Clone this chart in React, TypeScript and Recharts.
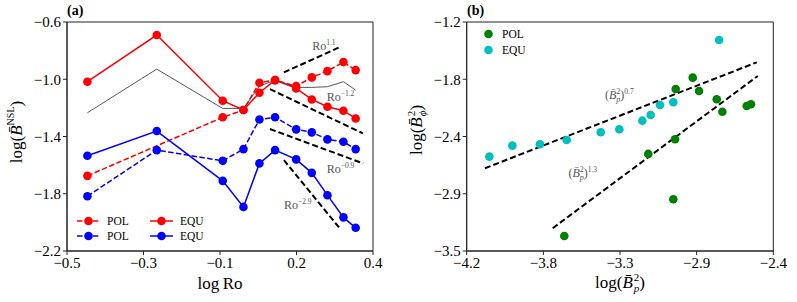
import React from 'react'
import {
  ComposedChart, ScatterChart, Line, Scatter, XAxis, YAxis, ReferenceLine, ReferenceArea, ReferenceDot,
} from 'recharts'

const FONT = '"Liberation Serif", "DejaVu Serif", serif'

// panel (a): log Ro vs log B^NSL
const logRo = [-0.44, -0.236, -0.042, 0.019, 0.066, 0.112, 0.174, 0.22, 0.266, 0.313, 0.349]
const redPol = [-1.675, null, -1.266, -1.215, -1.024, -1.006, -1.048, -0.987, -0.943, -0.88, -0.936]
const redEqu = [-1.017, -0.691, -1.15, -1.215, -1.094, -1.006, -1.064, -1.141, -1.192, -1.22, -1.274]
const bluePol = [-1.817, -1.495, -1.57, -1.488, -1.281, -1.266, -1.35, -1.371, -1.42, -1.437, -1.488]
const blueEqu = [-1.535, -1.362, -1.71, -1.892, -1.588, -1.495, -1.56, -1.654, -1.81, -1.965, -2.038]
const grayRef = [-1.234, -0.929, -1.204, -1.204, -1.048, -1.006, -1.057, -1.057, -1.052, -1.017, -1.076]

const aXTicks = [-0.5, -0.275, -0.05, 0.175, 0.4]
const aXLabels = ['−0.5', '−0.3', '−0.1', '0.2', '0.4']
const aYTicks = [-0.6, -1.0, -1.4, -1.8, -2.2]
const aYLabels = ['−0.6', '−1.0', '−1.4', '−1.8', '−2.2']

// power-law guides [x1, y1, x2, y2]
const aFits = [
  [0.138, -0.952, 0.301, -0.777],
  [0.097, -1.069, 0.37, -1.378],
  [0.097, -1.348, 0.371, -1.588],
  [0.138, -1.565, 0.301, -2.038],
]
const aFitText = [
  { x: 0.221, y: -0.796, exp: '1.1' },
  { x: 0.264, y: -1.152, exp: '−1.2' },
  { x: 0.264, y: -1.656, exp: '−0.9' },
  { x: 0.138, y: -1.908, exp: '−2.9' },
]

// panel (b): log Bp^2 vs log Bphi^2
const polBp = [-3.627, -3.134, -2.977, -2.987, -2.973, -2.873, -2.836, -2.732, -2.699, -2.556, -2.531]
const polBphi = [-3.349, -2.525, -2.378, -2.98, -1.873, -1.759, -1.893, -1.976, -2.101, -2.043, -2.026]
const equBp = [-4.067, -3.932, -3.77, -3.613, -3.413, -3.304, -3.169, -3.12, -3.065, -2.987, -2.718]
const equBphi = [-2.552, -2.442, -2.428, -2.385, -2.307, -2.277, -2.191, -2.134, -2.033, -2.006, -1.381]

const bXTicks = [-4.2, -3.75, -3.3, -2.85, -2.4]
const bXLabels = ['−4.2', '−3.8', '−3.3', '−2.9', '−2.4']
const bYTicks = [-1.2, -1.775, -2.35, -2.925, -3.5]
const bYLabels = ['−1.2', '−1.8', '−2.4', '−2.9', '−3.5']

const bFits = [
  [-4.093, -2.669, -2.497, -1.605],
  [-3.695, -3.271, -2.491, -1.742],
]
const bFitText = [
  { x: -3.388, y: -1.973, exp: '0.7' },
  { x: -3.603, y: -2.756, exp: '1.3' },
]

const RED = '#ff0000'
const BLUE = '#0000ff'
const GREEN = '#008000'
const CYAN = '#00bfbf'

const tickStyle = { fill: '#000', fontSize: 15, fontFamily: FONT }

const dotOf = (color: string) => (p: any) =>
  p.cx == null || p.cy == null ? <g key={p.key ?? p.index} /> : (
    <circle key={p.key ?? p.index} cx={p.cx} cy={p.cy} r={4.3} fill={color} stroke="none" />
  )

const roLabel = (exp: string) => ({ viewBox }: any) => (
  <text x={viewBox.x + (viewBox.width || 0) / 2} y={viewBox.y + (viewBox.height || 0) / 2}
    fill="#555" fontSize={12} style={{ fontFamily: FONT }}>
    <tspan>Ro</tspan>
    <tspan dy={-5} fontSize={7.5}>{exp}</tspan>
  </text>
)

const bpLabel = (exp: string) => ({ viewBox }: any) => (
  <text x={viewBox.x + (viewBox.width || 0) / 2} y={viewBox.y + (viewBox.height || 0) / 2}
    fill="#555" fontSize={12} style={{ fontFamily: FONT }}>
    <tspan>(</tspan>
    <tspan fontStyle="italic">B{'\u0304'}</tspan>
    <tspan dy={-5} fontSize={8}>2</tspan>
    <tspan dx={-4} dy={8} fontSize={8} fontStyle="italic">p</tspan>
    <tspan dy={-3}>)</tspan>
    <tspan dy={-5} fontSize={7.5}>{exp}</tspan>
  </text>
)

const LegendRow = ({ color, dashed, text, x, y }: any) => (
  <div style={{ position: 'absolute', left: x, top: y - 7, height: 14, display: 'flex', alignItems: 'center' }}>
    <svg width={24} height={14}>
      <line x1={0} y1={7} x2={23} y2={7} stroke={color} strokeWidth={1.5} strokeDasharray={dashed ? '5.5 2.4' : undefined} />
      <circle cx={11.5} cy={7} r={4.3} fill={color} />
    </svg>
    <span style={{ fontSize: 11.5, marginLeft: 6 }}>{text}</span>
  </div>
)

export default function App() {
  const dataA = logRo.map((x, i) => ({
    x, redPol: redPol[i], redEqu: redEqu[i], bluePol: bluePol[i], blueEqu: blueEqu[i], gray: grayRef[i],
  }))
  const polData = polBp.map((x, i) => ({ x, y: polBphi[i] }))
  const equData = equBp.map((x, i) => ({ x, y: equBphi[i] }))

  return (
    <div style={{ position: 'absolute', left: 0, top: 0, width: 797, height: 302, background: '#fff', fontFamily: FONT, color: '#000' }}>
      <style>{`.recharts-wrapper text, .recharts-wrapper tspan { font-family: ${FONT}; }`}</style>
      <div style={{ position: 'absolute', left: 0, top: 0 }}>
        <ComposedChart width={400} height={302} data={dataA} margin={{ top: 22, right: 27, bottom: 0, left: 0 }} style={{ fontFamily: FONT }}>
          <XAxis dataKey="x" type="number" domain={[-0.5, 0.4]} ticks={aXTicks} tickFormatter={(_v: any, i: number) => aXLabels[i]}
            height={51} tick={tickStyle} tickSize={4} stroke="#222" interval={0} allowDataOverflow />
          <YAxis type="number" domain={[-2.2, -0.6]} ticks={aYTicks} tickFormatter={(_v: any, i: number) => aYLabels[i]}
            width={67} tick={tickStyle} tickSize={4} stroke="#222" interval={0} allowDataOverflow />
          <ReferenceArea x1={-0.5} x2={0.4} y1={-2.2} y2={-0.6} fill="none" stroke="#222" strokeWidth={1} ifOverflow="visible" />
          <Line dataKey="redPol" stroke={RED} strokeWidth={1.5} strokeDasharray="5.5 2.4" connectNulls dot={dotOf(RED)} isAnimationActive={false} />
          <Line dataKey="redEqu" stroke={RED} strokeWidth={1.5} dot={dotOf(RED)} isAnimationActive={false} />
          <Line dataKey="bluePol" stroke={BLUE} strokeWidth={1.5} strokeDasharray="5.5 2.4" dot={dotOf(BLUE)} isAnimationActive={false} />
          <Line dataKey="blueEqu" stroke={BLUE} strokeWidth={1.5} dot={dotOf(BLUE)} isAnimationActive={false} />
          <Line dataKey="gray" stroke="#444" strokeWidth={0.9} dot={false} isAnimationActive={false} />
          {aFits.map((f, i) => (
            <ReferenceLine key={'fa' + i} segment={[{ x: f[0], y: f[1] }, { x: f[2], y: f[3] }]}
              stroke="#000" strokeWidth={2} strokeDasharray="6 3" />
          ))}
          {aFitText.map((t, i) => (
            <ReferenceDot key={'ta' + i} x={t.x} y={t.y} r={0} fill="none" stroke="none" label={roLabel(t.exp)} />
          ))}
        </ComposedChart>
      </div>

      <div style={{ position: 'absolute', left: 400, top: 0 }}>
        <ScatterChart width={397} height={302} margin={{ top: 22, right: 23.7, bottom: 0, left: 0 }} style={{ fontFamily: FONT }}>
          <XAxis dataKey="x" type="number" domain={[-4.2, -2.4]} ticks={bXTicks} tickFormatter={(_v: any, i: number) => bXLabels[i]}
            height={51} tick={tickStyle} tickSize={4} stroke="#222" interval={0} allowDataOverflow />
          <YAxis dataKey="y" type="number" domain={[-3.5, -1.2]} ticks={bYTicks} tickFormatter={(_v: any, i: number) => bYLabels[i]}
            width={66.7} tick={tickStyle} tickSize={4} stroke="#222" interval={0} allowDataOverflow />
          <ReferenceArea x1={-4.2} x2={-2.4} y1={-3.5} y2={-1.2} fill="none" stroke="#222" strokeWidth={1} ifOverflow="visible" />
          <Scatter name="POL" data={polData} fill={GREEN} shape={dotOf(GREEN)} isAnimationActive={false} />
          <Scatter name="EQU" data={equData} fill={CYAN} shape={dotOf(CYAN)} isAnimationActive={false} />
          {bFits.map((f, i) => (
            <ReferenceLine key={'fb' + i} segment={[{ x: f[0], y: f[1] }, { x: f[2], y: f[3] }]}
              stroke="#000" strokeWidth={2} strokeDasharray="6 3" />
          ))}
          {bFitText.map((t, i) => (
            <ReferenceDot key={'tb' + i} x={t.x} y={t.y} r={0} fill="none" stroke="none" label={bpLabel(t.exp)} />
          ))}
        </ScatterChart>
      </div>

      {/* panel tags */}
      <div style={{ position: 'absolute', left: 67, top: 3, fontSize: 14, fontWeight: 'bold' }}>(a)</div>
      <div style={{ position: 'absolute', left: 467, top: 3, fontSize: 14, fontWeight: 'bold' }}>(b)</div>

      {/* axis titles */}
      <div style={{ position: 'absolute', left: 220, top: 274, transform: 'translateX(-50%)', fontSize: 17, whiteSpace: 'nowrap' }}>
        log&thinsp;Ro
      </div>
      <div style={{ position: 'absolute', left: 17, top: 132, transform: 'translate(-50%, -50%) rotate(-90deg)', fontSize: 17, whiteSpace: 'nowrap' }}>
        log(<i>B{'\u0304'}</i><span style={{ fontSize: 10, position: 'relative', top: -8 }}>NSL</span>)
      </div>
      <div style={{ position: 'absolute', left: 620, top: 272, transform: 'translateX(-50%)', fontSize: 17, whiteSpace: 'nowrap', display: 'flex', alignItems: 'center' }}>
        log(<i>B{'\u0304'}</i>
        <span style={{ display: 'inline-flex', flexDirection: 'column', fontSize: 11, lineHeight: '11px', marginLeft: 1 }}>
          <span>2</span><i>p</i>
        </span>)
      </div>
      <div style={{ position: 'absolute', left: 417, top: 130, transform: 'translate(-50%, -50%) rotate(-90deg)', fontSize: 17, whiteSpace: 'nowrap', display: 'flex', alignItems: 'center' }}>
        log(<i>B{'\u0304'}</i>
        <span style={{ display: 'inline-flex', flexDirection: 'column', fontSize: 11, lineHeight: '11px', marginLeft: 1 }}>
          <span>2</span><i>ϕ</i>
        </span>)
      </div>

      {/* legend (a) */}
      <LegendRow color={RED} dashed text="POL" x={77} y={221} />
      <LegendRow color={BLUE} dashed text="POL" x={77} y={236} />
      <LegendRow color={RED} text="EQU" x={150} y={221} />
      <LegendRow color={BLUE} text="EQU" x={150} y={236} />

      {/* legend (b) */}
      {[{ c: GREEN, t: 'POL', y: 34 }, { c: CYAN, t: 'EQU', y: 50 }].map((r) => (
        <div key={r.t} style={{ position: 'absolute', left: 483, top: r.y - 7, height: 14, display: 'flex', alignItems: 'center' }}>
          <svg width={11} height={14}><circle cx={5.5} cy={7} r={4.3} fill={r.c} /></svg>
          <span style={{ fontSize: 11.5, marginLeft: 8 }}>{r.t}</span>
        </div>
      ))}
    </div>
  )
}
